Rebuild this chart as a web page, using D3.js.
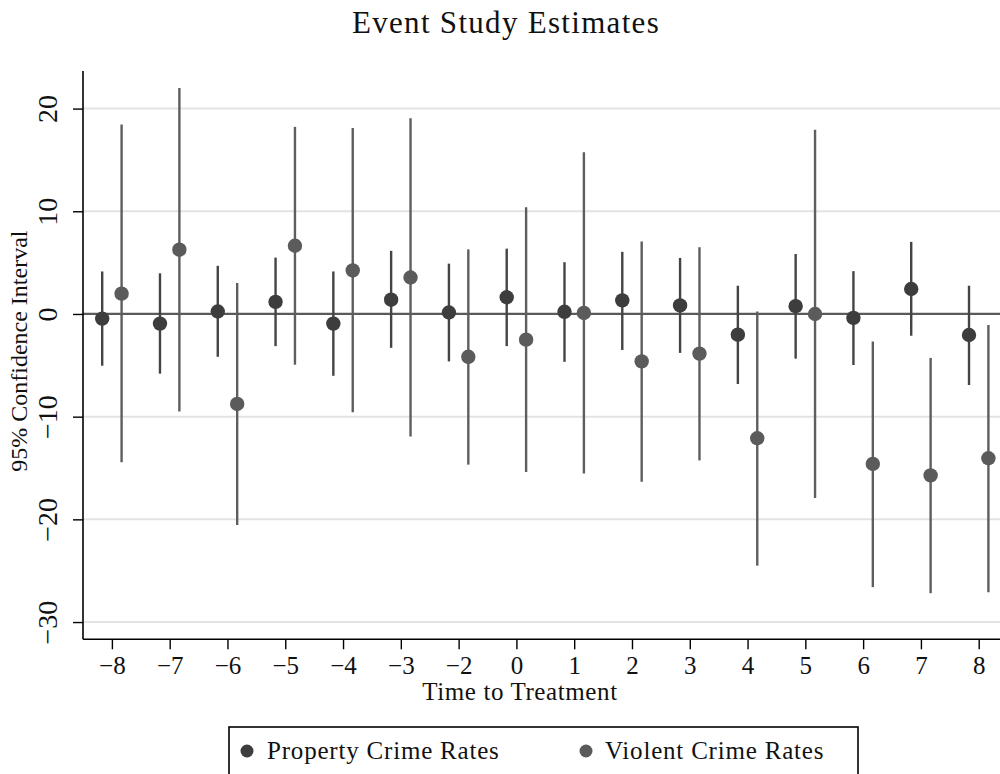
<!DOCTYPE html>
<html>
<head>
<meta charset="utf-8">
<script src="https://cdn.jsdelivr.net/npm/d3@7"></script>
<style>
  html, body { margin: 0; padding: 0; background: #fff; }
  svg { display: block; }
  text { font-family: "Liberation Serif", "Times New Roman", serif; fill: #111; }
</style>
</head>
<body>
<svg id="chart" width="1000" height="774"></svg>
<script>
// Event-time periods (the reference period -1 is omitted)
const periods = ["−8", "−7", "−6", "−5", "−4", "−3", "−2", "0", "1", "2", "3", "4", "5", "6", "7", "8"];

// Property crime rates: point estimates and 95% CI bounds
const propEst   = [-0.45, -0.94, 0.24, 1.18, -0.94, 1.39, 0.14, 1.63, 0.21, 1.32, 0.83, -2.02, 0.76, -0.38, 2.43, -2.05];
const propLow   = [-5.04, -5.81, -4.17, -3.13, -6.02, -3.30, -4.62, -3.13, -4.66, -3.51, -3.79, -6.82, -4.35, -4.97, -2.12, -6.92];
const propHigh  = [4.14, 3.96, 4.69, 5.49, 4.14, 6.15, 4.90, 6.36, 5.04, 6.05, 5.46, 2.75, 5.84, 4.17, 7.02, 2.75];

// Violent crime rates: point estimates and 95% CI bounds
const violEst   = [1.98, 6.26, -8.76, 6.64, 4.24, 3.55, -4.17, -2.50, 0.10, -4.62, -3.86, -12.10, 0.00, -14.60, -15.72, -14.05];
const violLow   = [-14.43, -9.49, -20.55, -4.94, -9.56, -11.93, -14.67, -15.40, -15.54, -16.34, -14.26, -24.51, -17.91, -26.60, -27.19, -27.09];
const violHigh  = [18.46, 22.0, 3.02, 18.22, 18.12, 19.05, 6.29, 10.40, 15.75, 7.06, 6.50, 0.24, 17.94, -2.68, -4.28, -1.08];

const yTicks = [20, 10, 0, -10, -20, -30];
const seriesNames = ["Property Crime Rates", "Violent Crime Rates"];

const svg = d3.select("#chart");

// Plot region
const plotLeft = 83, plotTop = 71, plotBottom = 639.3, plotRight = 1007.6;
const x = d3.scaleLinear().domain([-0.5, periods.length - 0.5]).range([plotLeft, plotRight]);
const y = d3.scaleLinear().domain([-31.68, 23.66]).range([plotBottom, plotTop]);
const dodge = 9.7;

const colors = { prop: "#3d3d3d", viol: "#5b5b5b", propBar: "#444", violBar: "#5e5e5e" };

// Title
svg.append("text")
  .attr("x", 506).attr("y", 33)
  .attr("text-anchor", "middle")
  .style("font-size", "31px")
  .style("letter-spacing", "1.3px")
  .text("Event Study Estimates");

// Gridlines
svg.append("g")
  .selectAll("line")
  .data(yTicks.filter(d => d !== 0))
  .join("line")
  .attr("x1", plotLeft).attr("x2", 1000)
  .attr("y1", d => y(d)).attr("y2", d => y(d))
  .attr("stroke", "#e3e3e3").attr("stroke-width", 2);

// Reference line at zero
svg.append("line")
  .attr("x1", plotLeft).attr("x2", 1000)
  .attr("y1", y(0)).attr("y2", y(0))
  .attr("stroke", "#5a5a5a").attr("stroke-width", 2.2);

// Y axis
const yAxis = svg.append("g")
  .attr("transform", `translate(${plotLeft},0)`)
  .call(d3.axisLeft(y).tickValues(yTicks).tickSize(10).tickFormat(d => d < 0 ? "−" + Math.abs(d) : d));
yAxis.select(".domain").attr("stroke", "#000").attr("stroke-width", 1.6)
  .attr("d", `M0,${plotTop}V${plotBottom}`);
yAxis.selectAll(".tick line").attr("stroke", "#000").attr("stroke-width", 1.4);
yAxis.selectAll(".tick text")
  .attr("x", null).attr("dy", null)
  .attr("transform", "translate(-26,0) rotate(-90)")
  .attr("text-anchor", "middle")
  .style("font-family", "Liberation Serif, serif")
  .style("font-size", "28px")
  .attr("fill", "#111");

// X axis
const xAxis = svg.append("g")
  .attr("transform", `translate(0,${plotBottom})`)
  .call(d3.axisBottom(x).tickValues(d3.range(periods.length)).tickSize(10).tickFormat(i => periods[i]));
xAxis.select(".domain").attr("stroke", "#000").attr("stroke-width", 1.6)
  .attr("d", `M${plotLeft},0H1000`);
xAxis.selectAll(".tick line").attr("stroke", "#000").attr("stroke-width", 1.4);
xAxis.selectAll(".tick text")
  .attr("y", 35).attr("dy", null)
  .style("font-family", "Liberation Serif, serif")
  .style("font-size", "25px")
  .attr("fill", "#111");

// Axis titles
svg.append("text")
  .attr("transform", `translate(27,${(plotTop + plotBottom) / 2 - 4}) rotate(-90)`)
  .attr("text-anchor", "middle")
  .style("font-size", "24px")
  .text("95% Confidence Interval");

svg.append("text")
  .attr("x", 520).attr("y", 700)
  .attr("text-anchor", "middle")
  .style("font-size", "25px")
  .style("letter-spacing", "0.6px")
  .text("Time to Treatment");

// Confidence intervals and point estimates
function drawSeries(est, low, high, offset, barColor, dotColor) {
  const g = svg.append("g");
  g.selectAll("line")
    .data(est.map((e, i) => ({ i, e, lo: low[i], hi: high[i] })))
    .join("line")
    .attr("x1", d => x(d.i) + offset).attr("x2", d => x(d.i) + offset)
    .attr("y1", d => y(d.lo)).attr("y2", d => y(d.hi))
    .attr("stroke", barColor).attr("stroke-width", 2.4);
  g.selectAll("circle")
    .data(est.map((e, i) => ({ i, e })))
    .join("circle")
    .attr("cx", d => x(d.i) + offset).attr("cy", d => y(d.e))
    .attr("r", 7.2)
    .attr("fill", dotColor);
}
drawSeries(propEst, propLow, propHigh, -dodge, colors.propBar, colors.prop);
drawSeries(violEst, violLow, violHigh, dodge, colors.violBar, colors.viol);

// Legend
const legend = svg.append("g");
legend.append("rect")
  .attr("x", 229).attr("y", 727)
  .attr("width", 629).attr("height", 60)
  .attr("fill", "none").attr("stroke", "#000").attr("stroke-width", 1.6);
const legendItems = [
  { name: seriesNames[0], color: colors.prop, mx: 247, tx: 267 },
  { name: seriesNames[1], color: colors.viol, mx: 586, tx: 605 }
];
legend.selectAll("circle")
  .data(legendItems).join("circle")
  .attr("cx", d => d.mx).attr("cy", 751).attr("r", 6.5)
  .attr("fill", d => d.color);
legend.selectAll("text")
  .data(legendItems).join("text")
  .attr("x", d => d.tx).attr("y", 759)
  .style("font-size", "25px")
  .style("letter-spacing", "0.8px")
  .text(d => d.name);
</script>
</body>
</html>
